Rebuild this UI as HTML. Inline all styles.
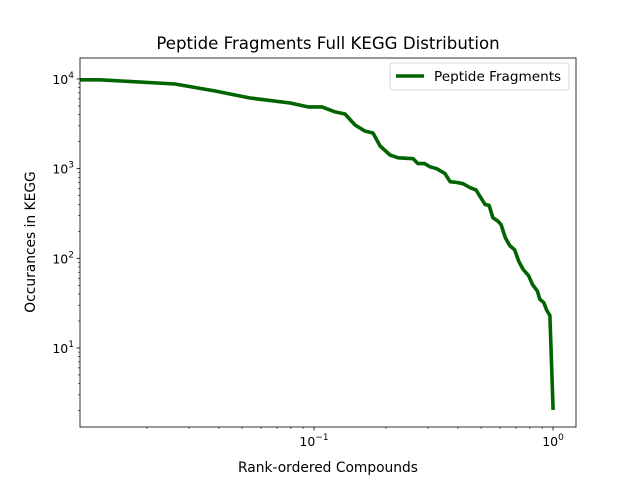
<!DOCTYPE html>
<html><head><meta charset="utf-8"><style>
body{margin:0;background:#fff;font-family:"Liberation Sans","DejaVu Sans",sans-serif}
svg text{font-family:"DejaVu Sans","Liberation Sans",sans-serif;fill:#000}
</style></head><body>
<svg id="chart" width="640" height="480" xmlns="http://www.w3.org/2000/svg"></svg>
<script>
const xValues=[0.0105,0.0127,0.0262,0.0386,0.054,0.0794,0.0944,0.108,0.1225,0.1348,0.1486,0.163,0.1765,0.189,0.208,0.225,0.26,0.272,0.29,0.306,0.326,0.353,0.371,0.397,0.42,0.45,0.476,0.495,0.52,0.54,0.56,0.588,0.606,0.631,0.66,0.69,0.72,0.75,0.79,0.82,0.86,0.88,0.915,0.94,0.97,1.0];
const yValues=[9800,9800,8800,7350,6130,5400,4880,4880,4290,4070,3070,2630,2500,1790,1420,1320,1290,1140,1140,1050,1000,880,716,700,680,614,580,488,397,390,283,260,237,170,138,125,92,75,64,51,43,35,32,26.5,23,2.04];
const xTickExps=[-1,0];
const yTickExps=[1,2,3,4];
const L=80,R=576,T=58,B=427;
const xl0=-1.979,xl1=0.096,yl0=0.119,yl1=4.234;
const sx=v=>L+(Math.log10(v)-xl0)/(xl1-xl0)*(R-L);
const sy=v=>B-(Math.log10(v)-yl0)/(yl1-yl0)*(B-T);
const svg=document.getElementById('chart');
const NS='http://www.w3.org/2000/svg';
function mk(tag,attrs,parent){const e=document.createElementNS(NS,tag);for(const k in attrs)e.setAttribute(k,attrs[k]);(parent||svg).appendChild(e);return e;}
for(let d=-2;d<=0;d++){for(let m=1;m<10;m++){const v=m*Math.pow(10,d);const lv=Math.log10(v);if(lv<xl0||lv>xl1)continue;const x=sx(v);
 const t=mk('line',{x1:x,x2:x,y1:B,y2:B+(m==1?3.5:2),stroke:'#000','stroke-width':m==1?0.8:0.6});
 }}
for(let d=0;d<=4;d++){for(let m=1;m<10;m++){const v=m*Math.pow(10,d);const lv=Math.log10(v);if(lv<yl0||lv>yl1)continue;const y=sy(v);
 const t=mk('line',{x1:L-(m==1?3.5:2),x2:L,y1:y,y2:y,stroke:'#000','stroke-width':m==1?0.8:0.6});
 }}
xTickExps.forEach(e=>{const x=sx(Math.pow(10,e));const t=mk('text',{x:x,y:B+19,'text-anchor':'middle','font-size':12.5});
 t.innerHTML='10<tspan dy="-6" font-size="9">'+(e<0?'\u22121':'0')+'</tspan>';
 });
yTickExps.forEach(e=>{const y=sy(Math.pow(10,e));const t=mk('text',{x:L-6,y:y+5,'text-anchor':'end','font-size':12.5});
 t.innerHTML='10<tspan dy="-6" font-size="9">'+e+'</tspan>';
 });
const pts=xValues.map((v,i)=>sx(v).toFixed(1)+','+sy(yValues[i]).toFixed(1)).join(' ');
const cp=mk('clipPath',{id:'cp'});mk('rect',{x:L,y:T,width:R-L,height:B-T},cp);
const pl=mk('polyline',{points:pts,fill:'none',stroke:'#006400','stroke-width':3.6,'stroke-linejoin':'round','clip-path':'url(#cp)'});

const fr=mk('rect',{x:L,y:T,width:R-L,height:B-T,fill:'none',stroke:'#000','stroke-width':0.8});

</script>
<svg style="position:absolute;left:0;top:0" width="640" height="480" xmlns="http://www.w3.org/2000/svg">
<text x="328" y="49" text-anchor="middle" font-size="16.6">Peptide Fragments Full KEGG Distribution</text>
<text x="328" y="472" text-anchor="middle" font-size="13.8">Rank-ordered Compounds</text>
<text x="35" y="242" text-anchor="middle" font-size="13.8" transform="rotate(-90 35 242)">Occurances in KEGG</text>
<g>
<rect x="390" y="63" width="179" height="27" rx="3" fill="#fff" stroke="#ccc" stroke-width="0.8"/>
<line x1="396" y1="76" x2="424" y2="76" stroke="#006400" stroke-width="3.6"/>
<text x="434" y="81" font-size="13.6">Peptide Fragments</text>
</g>
</svg>
</body></html>
